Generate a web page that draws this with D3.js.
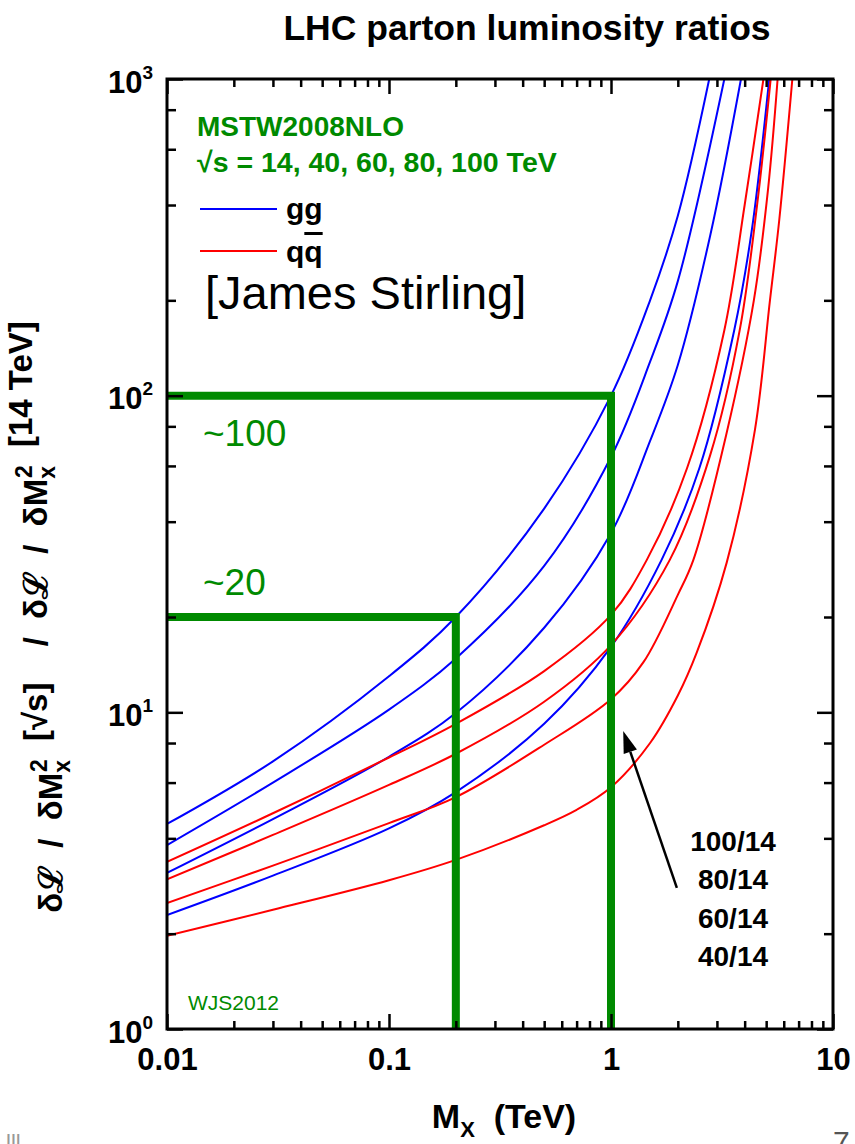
<!DOCTYPE html>
<html>
<head>
<meta charset="utf-8">
<script src="https://cdn.jsdelivr.net/npm/d3@7"></script>
<style>
  body { margin: 0; background: #fff; }
  svg { display: block; }
  text { font-family: "Liberation Sans", Arial, Helvetica, sans-serif; }
</style>
</head>
<body>
<svg id="chart" width="855" height="1144"></svg>
<script>
// luminosity ratio vs M_X (TeV)
const gg100 = [[0.01,4.44],[0.03,7.0],[0.1,13],[0.2,20],[0.5,44],[1,100],[1.5,200],[2,370],[2.77,1000]];
const gg80  = [[0.01,3.81],[0.03,6.0],[0.1,10.2],[0.2,14.8],[0.5,29],[1,64],[1.5,128],[2,230],[3.24,1000]];
const gg60  = [[0.01,3.11],[0.03,4.6],[0.1,7.24],[0.2,9.95],[0.5,18.5],[1,36.8],[1.5,72],[2,125],[2.8,321],[3.85,1000]];
const gg40  = [[0.01,2.29],[0.03,3.05],[0.1,4.3],[0.2,5.6],[0.5,9.2],[1,16.1],[1.69,30.3],[2.5,59],[3.59,161],[4.3,330],[5.16,1000]];
const qq100 = [[0.01,3.37],[0.03,4.8],[0.1,7.2],[0.2,9.2],[0.5,13.5],[1,20.3],[1.45,30.3],[2.2,59],[3.24,161],[4,400],[4.86,1000]];
const qq80  = [[0.01,2.97],[0.03,4.1],[0.1,5.9],[0.2,7.4],[0.5,10.8],[1,16.3],[1.84,30.3],[2.8,65],[3.8,161],[4.55,400],[5.24,1000]];
const qq60  = [[0.01,2.50],[0.03,3.28],[0.1,4.47],[0.2,5.4],[0.5,7.9],[1,11.0],[1.4,14.4],[2,23.5],[2.35,30.3],[3.3,75],[4.4,200],[5.1,450],[5.63,1000]];
const qq40  = [[0.01,1.97],[0.03,2.38],[0.1,2.95],[0.2,3.42],[0.5,4.4],[0.7,4.92],[1,5.8],[1.5,8.0],[2,11.3],[2.43,15.4],[3.32,29.7],[4.45,78],[5.2,200],[5.73,360],[6.56,1000]];

const series = [
  {name: "gg 100/14", color: "#0000ff", values: gg100},
  {name: "gg 80/14",  color: "#0000ff", values: gg80},
  {name: "gg 60/14",  color: "#0000ff", values: gg60},
  {name: "gg 40/14",  color: "#0000ff", values: gg40},
  {name: "qq 100/14", color: "#ff0000", values: qq100},
  {name: "qq 80/14",  color: "#ff0000", values: qq80},
  {name: "qq 60/14",  color: "#ff0000", values: qq60},
  {name: "qq 40/14",  color: "#ff0000", values: qq40}
];

// green guide lines: [mass, ratio]
const guides = [[1, 100], [0.2, 20]];
const guideLabels = ["~100", "~20"];
const guideLabelShift = [50, -22];

const xMajor = [0.01, 0.1, 1, 10];
const xMinor = [0.01, 0.1, 1].flatMap(d => [2,3,4,5,6,7,8,9].map(k => d * k));
const yMajor = [1, 10, 100, 1000];
const yMinor = [1, 10, 100].flatMap(d => [2,4,6,8].map(k => d * k));
const ratioLabels = ["100/14", "80/14", "60/14", "40/14"];

const svg = d3.select("#chart");
const margin = {top: 79, right: 22, bottom: 115, left: 167};
const W = +svg.attr("width"), H = +svg.attr("height");

const x = d3.scaleLog().domain([0.01, 10]).range([margin.left, W - margin.right]);
const y = d3.scaleLog().domain([1, 1000]).range([H - margin.bottom, margin.top]);

const green = "#008a00";

// title
svg.append("text")
  .attr("x", 527).attr("y", 40)
  .attr("text-anchor", "middle")
  .attr("font-size", 35.5).attr("font-weight", "bold")
  .text("LHC parton luminosity ratios");

svg.append("clipPath").attr("id", "plot")
  .append("rect")
  .attr("x", x(0.01)).attr("y", y(1000))
  .attr("width", x(10) - x(0.01)).attr("height", y(1) - y(1000));

// curves
const line = d3.line()
  .x(d => x(d[0]))
  .y(d => y(d[1]))
  .curve(d3.curveCatmullRom.alpha(0.5));

svg.append("g").attr("clip-path", "url(#plot)")
  .selectAll("path")
  .data(series)
  .enter().append("path")
  .attr("d", d => line(d.values))
  .attr("fill", "none")
  .attr("stroke", d => d.color)
  .attr("stroke-width", 2);

// green guides
svg.append("g").selectAll("path")
  .data(guides)
  .enter().append("path")
  .attr("d", d => "M" + x(0.01) + "," + y(d[1]) + "H" + x(d[0]) + "V" + y(1))
  .attr("fill", "none")
  .attr("stroke", green)
  .attr("stroke-width", 8);

svg.append("g").selectAll("text")
  .data(guides)
  .enter().append("text")
  .attr("x", 203)
  .attr("y", (d, i) => y(d[1]) + guideLabelShift[i])
  .attr("fill", green)
  .attr("font-size", 37)
  .text((d, i) => guideLabels[i]);

// axes: ticks point inward
function tickStyle(g) {
  g.select(".domain").remove();
  g.selectAll("line").attr("stroke", "#000").attr("stroke-width", 2.5);
}

svg.append("g")
  .attr("transform", "translate(0," + y(1) + ")")
  .call(d3.axisBottom(x).tickValues(xMinor).tickSize(-8).tickFormat(""))
  .call(tickStyle);
svg.append("g")
  .attr("transform", "translate(0," + y(1) + ")")
  .call(d3.axisBottom(x).tickValues(xMajor).tickSize(-15).tickFormat(d3.format("")))
  .call(tickStyle)
  .call(g => g.selectAll("text")
    .attr("y", 41).attr("dy", null)
    .attr("font-size", 31).attr("font-weight", "bold")
    .attr("font-family", "'Liberation Sans', Arial, sans-serif")
    .attr("fill", "#000"));

svg.append("g")
  .attr("transform", "translate(0," + y(1000) + ")")
  .call(d3.axisTop(x).tickValues(xMinor).tickSize(-8).tickFormat(""))
  .call(tickStyle);
svg.append("g")
  .attr("transform", "translate(0," + y(1000) + ")")
  .call(d3.axisTop(x).tickValues(xMajor).tickSize(-15).tickFormat(""))
  .call(tickStyle);

svg.append("g")
  .attr("transform", "translate(" + x(0.01) + ",0)")
  .call(d3.axisLeft(y).tickValues(yMinor).tickSize(-9).tickFormat(""))
  .call(tickStyle);
svg.append("g")
  .attr("transform", "translate(" + x(0.01) + ",0)")
  .call(d3.axisLeft(y).tickValues(yMajor).tickSize(-16).tickPadding(14).tickFormat(""))
  .call(tickStyle)
  .call(g => g.selectAll(".tick text").each(function(d) {
    const t = d3.select(this)
      .attr("dy", "0.42em")
      .attr("font-size", 31).attr("font-weight", "bold")
      .attr("font-family", "'Liberation Sans', Arial, sans-serif")
      .attr("fill", "#000");
    t.append("tspan").text("10");
    t.append("tspan").attr("font-size", 19).attr("dy", -14).text(Math.round(Math.log10(d)));
  }));

svg.append("g")
  .attr("transform", "translate(" + x(10) + ",0)")
  .call(d3.axisRight(y).tickValues(yMinor).tickSize(-9).tickFormat(""))
  .call(tickStyle);
svg.append("g")
  .attr("transform", "translate(" + x(10) + ",0)")
  .call(d3.axisRight(y).tickValues(yMajor).tickSize(-16).tickFormat(""))
  .call(tickStyle);

// frame
svg.append("rect")
  .attr("x", x(0.01)).attr("y", y(1000))
  .attr("width", x(10) - x(0.01)).attr("height", y(1) - y(1000))
  .attr("fill", "none").attr("stroke", "#000").attr("stroke-width", 3);

// legend block
svg.append("text")
  .attr("x", 197).attr("y", 136)
  .attr("fill", green).attr("font-size", 28).attr("font-weight", "bold")
  .text("MSTW2008NLO");
svg.append("text")
  .attr("x", 197).attr("y", 172)
  .attr("fill", green).attr("font-size", 28.5).attr("font-weight", "bold")
  .text("√s = 14, 40, 60, 80, 100 TeV");

const legend = [{color: "#0000ff", y: 209}, {color: "#ff0000", y: 251}];
svg.append("g").selectAll("line")
  .data(legend)
  .enter().append("line")
  .attr("x1", 200).attr("x2", 277)
  .attr("y1", d => d.y).attr("y2", d => d.y)
  .attr("stroke", d => d.color).attr("stroke-width", 2);

svg.append("text")
  .attr("x", 286).attr("y", 219)
  .attr("font-size", 30).attr("font-weight", "bold")
  .text("gg");
const qq = svg.append("text")
  .attr("x", 286).attr("y", 262)
  .attr("font-size", 30).attr("font-weight", "bold");
qq.append("tspan").text("q");
qq.append("tspan").style("text-decoration", "overline").text("q");

svg.append("text")
  .attr("x", 205).attr("y", 309)
  .attr("font-size", 47)
  .text("[James Stirling]");

svg.append("text")
  .attr("x", 188).attr("y", 1010)
  .attr("fill", green).attr("font-size", 21)
  .text("WJS2012");

// arrow towards the x = 1 line
const arrowFrom = [x(1.98), y(2.79)], arrowTo = [x(1.135), y(8.73)];
const ang = Math.atan2(arrowTo[1] - arrowFrom[1], arrowTo[0] - arrowFrom[0]);
const headLen = 22, headW = 7;
const base = [arrowTo[0] - headLen * Math.cos(ang), arrowTo[1] - headLen * Math.sin(ang)];
svg.append("line")
  .attr("x1", arrowFrom[0]).attr("y1", arrowFrom[1])
  .attr("x2", base[0]).attr("y2", base[1])
  .attr("stroke", "#000").attr("stroke-width", 2.5);
svg.append("path")
  .attr("d", "M" + arrowTo[0] + "," + arrowTo[1] +
    "L" + (base[0] + headW * Math.sin(ang)) + "," + (base[1] - headW * Math.cos(ang)) +
    "L" + (base[0] - headW * Math.sin(ang)) + "," + (base[1] + headW * Math.cos(ang)) + "Z")
  .attr("fill", "#000");

svg.append("g").selectAll("text")
  .data(ratioLabels)
  .enter().append("text")
  .attr("x", 733)
  .attr("y", (d, i) => 851 + i * 38.3)
  .attr("text-anchor", "middle")
  .attr("font-size", 28).attr("font-weight", "bold")
  .text(d => d);

// axis titles
const xt = svg.append("text")
  .attr("x", 504).attr("y", 1128)
  .attr("text-anchor", "middle")
  .attr("font-size", 34).attr("font-weight", "bold");
xt.append("tspan").text("M");
xt.append("tspan").attr("font-size", 22).attr("dy", 9).text("X");
xt.append("tspan").attr("dy", -9).text("\u00a0 (TeV)");

// y title; word gaps widened a little towards the original's overall length
const yt = svg.append("text")
  .attr("transform", "translate(62,617) rotate(-90)")
  .attr("text-anchor", "middle")
  .attr("font-size", 33).attr("font-weight", "bold");
function gap(t) { return t.append("tspan").attr("class", "gap").text("\u00a0"); }
function massPart(t) {
  t.append("tspan").text("δℒ");
  gap(t); t.append("tspan").text("/"); gap(t);
  t.append("tspan").text("δM");
  t.append("tspan").attr("font-size", 23).attr("dy", 8).text("x");
  t.append("tspan").attr("font-size", 23).attr("dx", -12).attr("dy", -23).text("2");
  t.append("tspan").attr("dy", 15).text("");
  gap(t);
}
massPart(yt);
yt.append("tspan").text("[√s]");
gap(yt); gap(yt); yt.append("tspan").text("/"); gap(yt);
massPart(yt);
yt.append("tspan").text("[14 TeV]");
const ytWidth = yt.node().getBBox().width;
const nGaps = yt.selectAll(".gap").size();
const extra = Math.min(9, Math.max(0, (640 - ytWidth) / nGaps));
yt.selectAll(".gap").attr("dx", extra);

// slide remnants
svg.append("text").attr("x", 833).attr("y", 1152)
  .attr("font-size", 30).attr("fill", "#555").text("7");
svg.append("text").attr("x", 6).attr("y", 1150)
  .attr("font-size", 22).attr("fill", "#999").text("lll");
</script>
</body>
</html>
